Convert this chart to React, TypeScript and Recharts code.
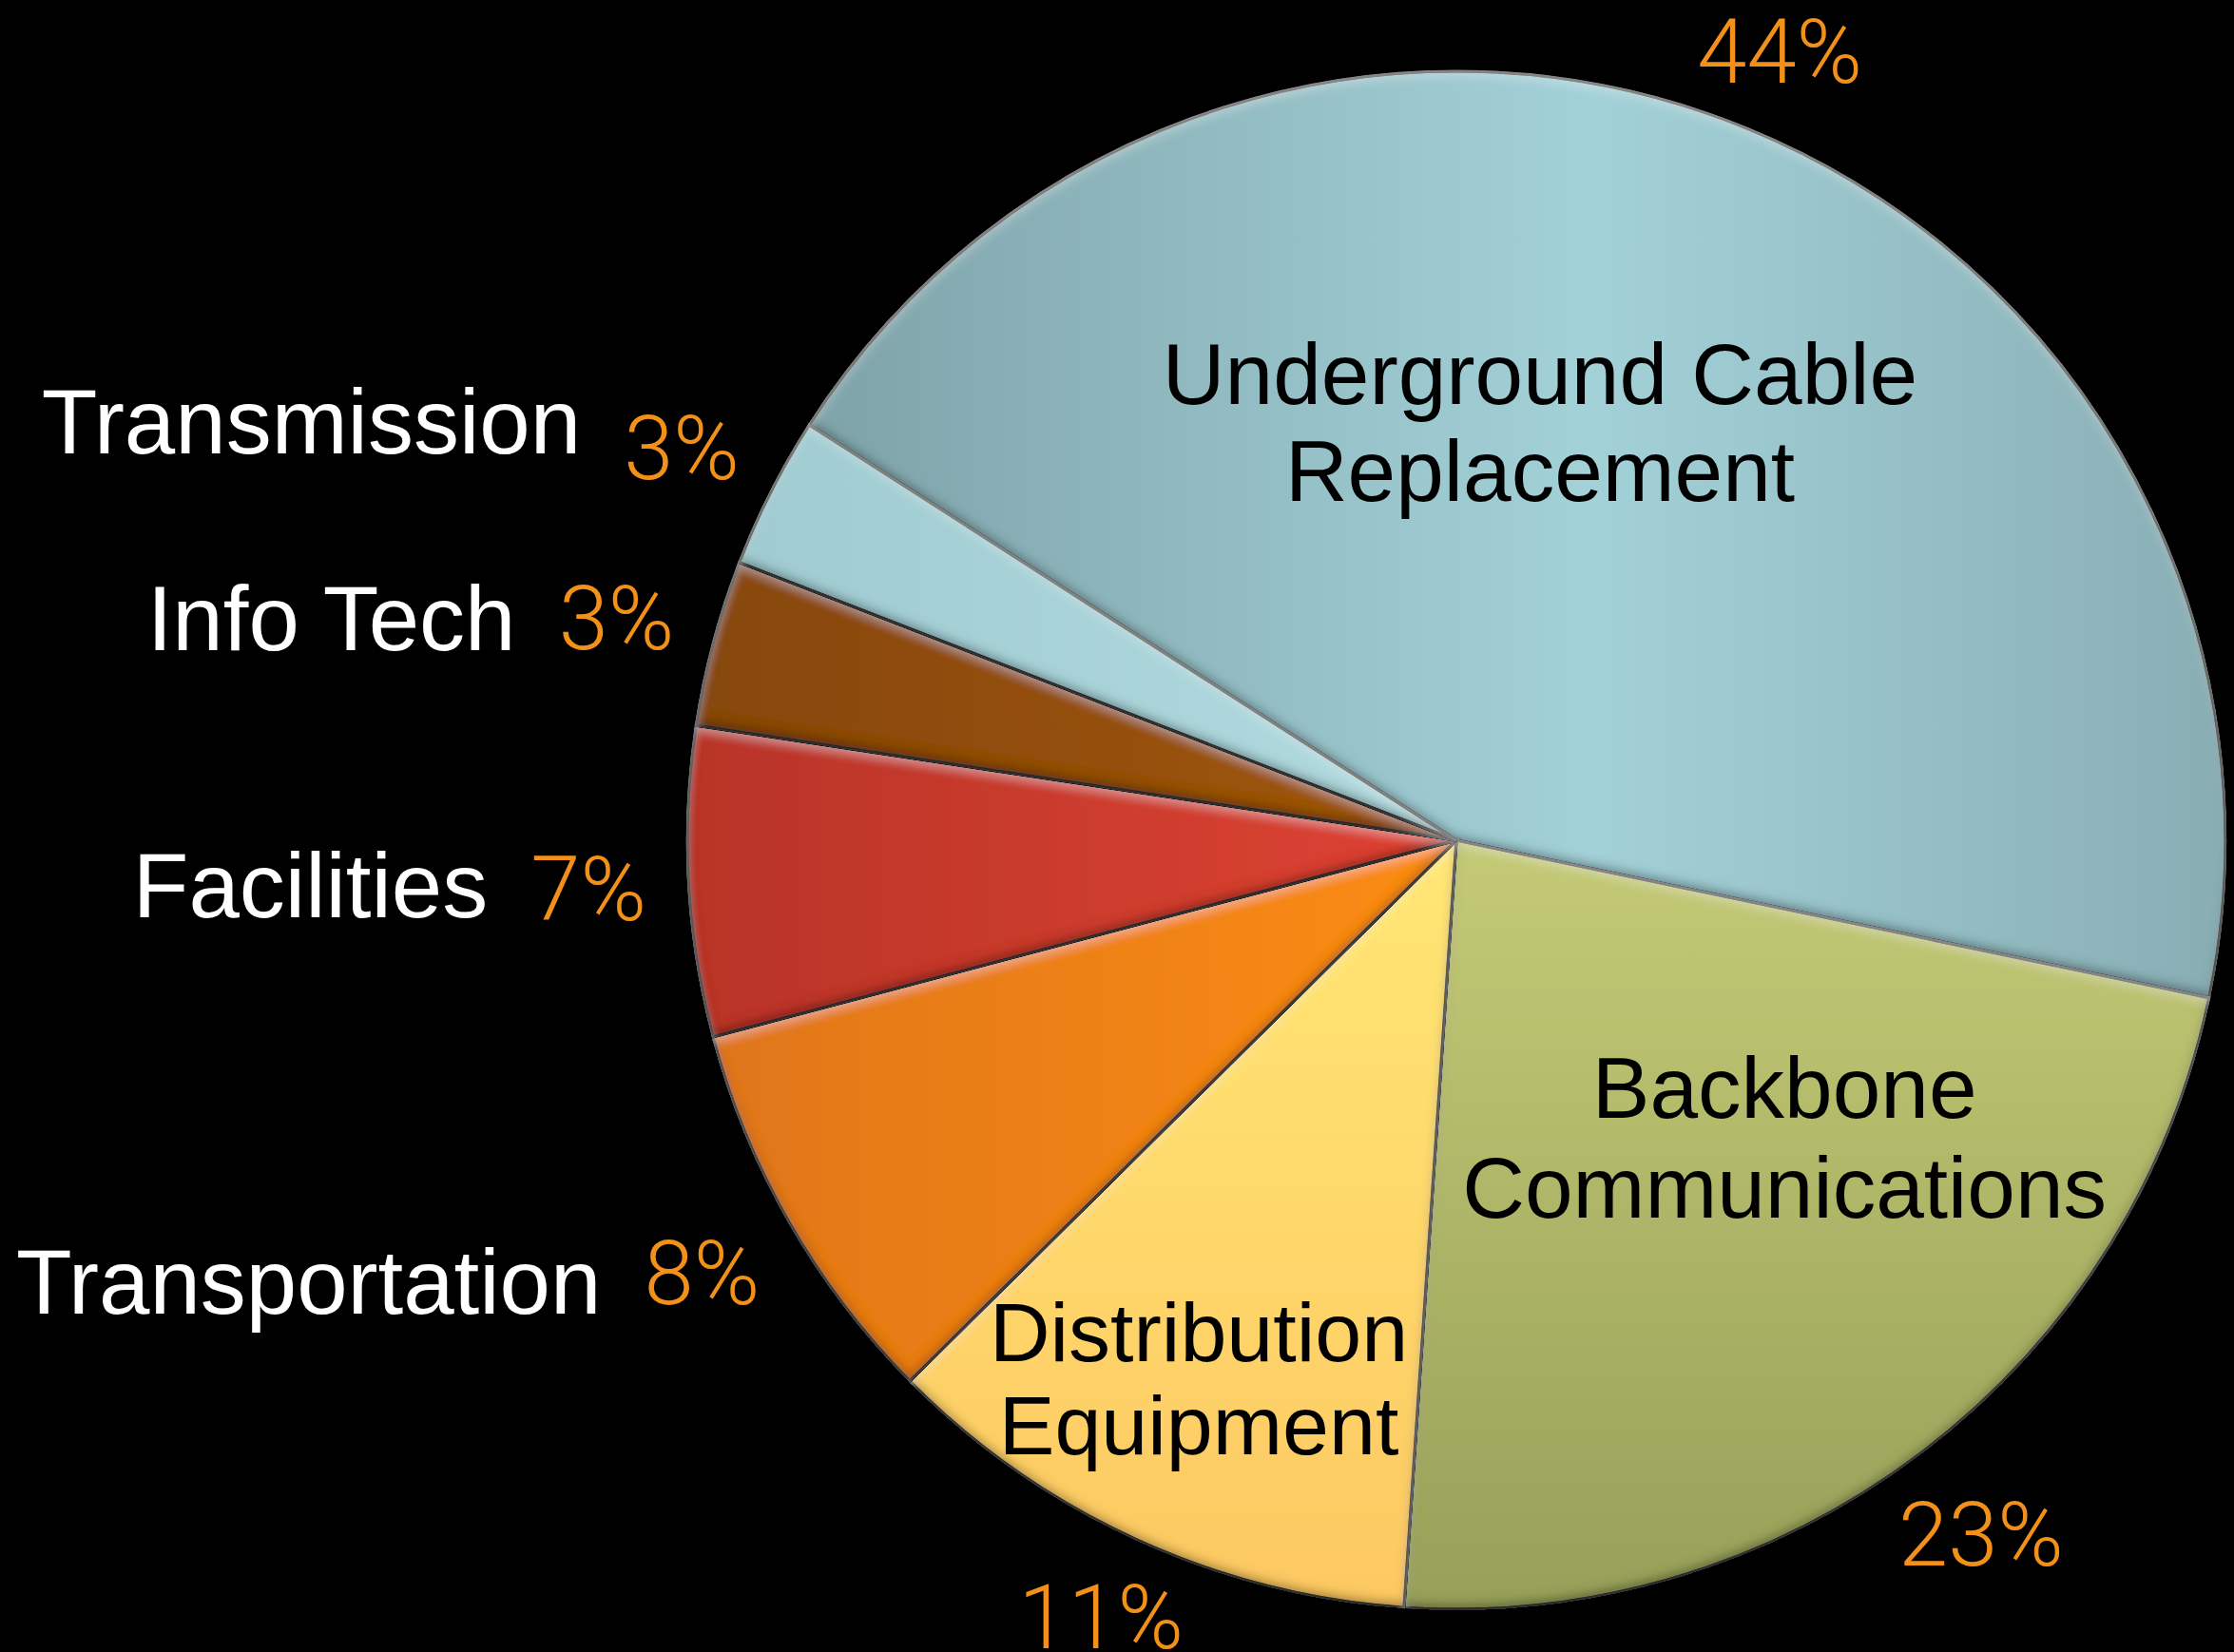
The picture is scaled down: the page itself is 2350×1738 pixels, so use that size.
import React from 'react';
import { PieChart, Pie, Cell } from 'recharts';

// ---- data ----
const categories = [
  'Underground Cable\nReplacement',
  'Backbone\nCommunications',
  'Distribution\nEquipment',
  'Transportation',
  'Facilities',
  'Info Tech',
  'Transmission',
];
const shares = [44.2, 22.8, 11.5, 8.3, 6.5, 3.5, 3.2];
const percentLabels = ['44%', '23%', '11%', '8%', '7%', '3%', '3%'];

// ---- styles ----
const gradients = [
  { id: 'g0', x2: '1', y2: '0', stops: [['0', '#7ea3a9'], ['0.55', '#a3d1d8'], ['1', '#88aeb4']] },
  { id: 'g1', x2: '0', y2: '1', stops: [['0', '#c4ca75'], ['1', '#97a059']] },
  { id: 'g2', x2: '0', y2: '1', stops: [['0', '#ffe774'], ['1', '#fdc862']] },
  { id: 'g3', x2: '1', y2: '0', stops: [['0', '#e0761a'], ['1', '#fc8c17']] },
  { id: 'g4', x2: '1', y2: '0', stops: [['0', '#b83428'], ['1', '#de4332']] },
  { id: 'g5', x2: '1', y2: '0', stops: [['0', '#87470f'], ['1', '#a0570f']] },
  { id: 'g6', x2: '1', y2: '0', stops: [['0', '#9fcbd1'], ['1', '#b2dbe0']] },
];

const labelLayout = [
  { inside: true, angle: 78.7, r: 0.555, lh: 102, size: 91, pctR: 1.11 },
  { inside: true, angle: -42.1, r: 0.575, lh: 105, size: 91, pctR: 1.13 },
  { inside: true, angle: -115.6, r: 0.775, lh: 98, size: 88, pctR: 1.11 },
  { inside: false, dy: 10, pctR: 1.13 },
  { inside: false, dy: -3, pctR: 1.13 },
  { inside: false, dy: 0, pctR: 1.13 },
  { inside: false, dy: -27, pctR: 1.13 },
];

const ORANGE = '#f39019';
const NAME_FONT = '"Liberation Sans", Arial, Helvetica, sans-serif';
const PCT_FONT = 'Roboto, "Liberation Sans", sans-serif';
const OUT_NAME_SIZE = 96;
const PCT_SIZE = 94;
const RAD = Math.PI / 180;

const data = categories.map((name, i) => ({ name, value: shares[i] }));

const polar = (cx: number, cy: number, r: number, a: number) => ({
  x: cx + r * Math.cos(-a * RAD),
  y: cy + r * Math.sin(-a * RAD),
});

function renderLabel(props: any) {
  const { cx, cy, midAngle, outerRadius, index } = props;
  const cfg: any = labelLayout[index];
  const p = polar(cx, cy, outerRadius * cfg.pctR, midAngle);
  const els: any[] = [
    <text
      key="pct"
      x={p.x}
      y={p.y + PCT_SIZE * 0.36}
      textAnchor="middle"
      fill={ORANGE}
      fontFamily={PCT_FONT}
      fontWeight={300}
      fontSize={PCT_SIZE}
    >
      {percentLabels[index]}
    </text>,
  ];
  const lines = categories[index].split('\n');
  if (cfg.inside) {
    const c = polar(cx, cy, outerRadius * cfg.r, cfg.angle);
    lines.forEach((ln, i) => {
      els.push(
        <text
          key={'n' + i}
          x={c.x}
          y={c.y + (i - (lines.length - 1) / 2) * cfg.lh + cfg.size * 0.36}
          textAnchor="middle"
          fill="#000"
          fontFamily={NAME_FONT}
          fontSize={cfg.size}
        >
          {ln}
        </text>
      );
    });
  } else {
    els.push(
      <text
        key="n"
        x={p.x - 106}
        y={p.y + cfg.dy + OUT_NAME_SIZE * 0.36}
        textAnchor="end"
        fill="#fff"
        fontFamily={NAME_FONT}
        fontSize={OUT_NAME_SIZE}
      >
        {lines[0]}
      </text>
    );
  }
  return <g key={'lbl' + index}>{els}</g>;
}

export default function App() {
  return (
    <div style={{ position: 'absolute', left: 0, top: 0, width: 2350, height: 1738, background: '#000' }}>
      <PieChart width={2350} height={1738} margin={{ top: 0, right: 0, bottom: 0, left: 0 }}>
        <defs>
          {gradients.map((g) => (
            <linearGradient key={g.id} id={g.id} x1="0" y1="0" x2={g.x2} y2={g.y2}>
              {g.stops.map(([o, c]) => (
                <stop key={o} offset={o} stopColor={c} />
              ))}
            </linearGradient>
          ))}
          <filter id="bevel" x="-5%" y="-5%" width="110%" height="110%">
            <feGaussianBlur in="SourceAlpha" stdDeviation="6" result="blur" />
            <feOffset in="blur" dx="0" dy="-6" result="up" />
            <feComposite in="SourceAlpha" in2="up" operator="arithmetic" k1="0" k2="1" k3="-1" k4="0" result="bottomEdge" />
            <feFlood floodColor="#000" floodOpacity="0.7" result="dark" />
            <feComposite in="dark" in2="bottomEdge" operator="in" result="shadow" />
            <feOffset in="blur" dx="0" dy="6" result="down" />
            <feComposite in="SourceAlpha" in2="down" operator="arithmetic" k1="0" k2="1" k3="-1" k4="0" result="topEdge" />
            <feFlood floodColor="#fff" floodOpacity="0.3" result="light" />
            <feComposite in="light" in2="topEdge" operator="in" result="hl" />
            <feMerge>
              <feMergeNode in="SourceGraphic" />
              <feMergeNode in="shadow" />
              <feMergeNode in="hl" />
            </feMerge>
          </filter>
        </defs>
        <Pie
          data={data}
          dataKey="value"
          nameKey="name"
          cx={1532}
          cy={884}
          outerRadius={809}
          startAngle={147.3}
          endAngle={-212.7}
          stroke="#111"
          strokeWidth={3}
          label={renderLabel}
          labelLine={false}
          isAnimationActive={false}
        >
          {data.map((d, i) => (
            <Cell key={d.name} fill={`url(#${gradients[i].id})`} filter="url(#bevel)" />
          ))}
        </Pie>
      </PieChart>
    </div>
  );
}
